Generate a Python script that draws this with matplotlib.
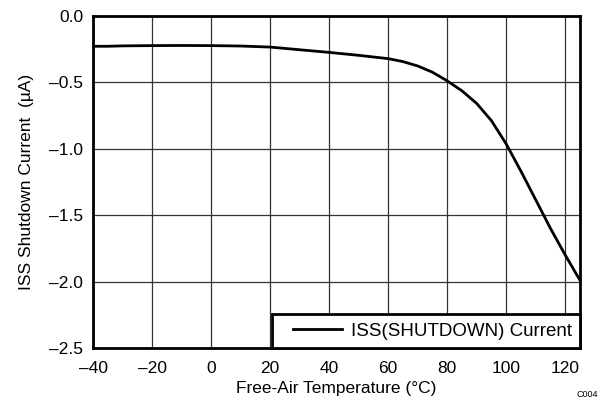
import numpy as np
import matplotlib.pyplot as plt
from matplotlib.legend_handler import HandlerLine2D

plt.rcParams['font.family'] = ['Liberation Sans', 'DejaVu Sans']

temp = [-40, -35, -30, -20, -10, 0, 10, 20, 30, 40, 50, 60, 65, 70, 75,
        80, 85, 90, 95, 100, 105, 110, 115, 120, 125]
iss = [-0.23, -0.23, -0.227, -0.225, -0.224, -0.225, -0.228, -0.236, -0.256,
       -0.276, -0.298, -0.323, -0.345, -0.378, -0.425, -0.49, -0.565, -0.66,
       -0.79, -0.965, -1.17, -1.385, -1.60, -1.80, -1.99]
xticks = [-40, -20, 0, 20, 40, 60, 80, 100, 120]
yticks = [0.0, -0.5, -1.0, -1.5, -2.0, -2.5]

fs = 12.5
fig = plt.figure(figsize=(6.02, 4.13), dpi=100)
ax = fig.add_axes([0.1545, 0.157, 0.809, 0.805])

line, = ax.plot(temp, iss, color='black', lw=2, label='ISS(SHUTDOWN) Current')

ax.set_xlim(-40, 125)
ax.set_ylim(-2.5, 0)
ax.set_xticks(xticks)
ax.set_xticklabels([str(v).replace('-', '\u2013') for v in xticks])
ax.set_yticks(yticks)
ax.set_yticklabels([('%.1f' % v).replace('-', '\u2013') for v in yticks])
ax.tick_params(axis='x', length=0, labelsize=fs, pad=9)
ax.tick_params(axis='y', length=0, labelsize=fs, pad=7)

for x in xticks + [125]:
    ax.axvline(x, color='#333333', lw=0.9, zorder=0)
for y in yticks:
    ax.axhline(y, color='#333333', lw=0.9, zorder=0)

for s in ax.spines.values():
    s.set_linewidth(2)

ax.set_xlabel('Free-Air Temperature (°C)', fontsize=fs, labelpad=4)
ax.set_ylabel('ISS Shutdown Current  (µA)', fontsize=fs, labelpad=11)

leg = ax.legend(loc='lower left', bbox_to_anchor=(0.3676, 0, 0.6324, 0.1),
                mode='expand', fontsize=13.5, fancybox=False, framealpha=1,
                edgecolor='black', borderaxespad=0, handlelength=3.3,
                borderpad=0.45, handletextpad=0.45,
                handler_map={line: HandlerLine2D(xpad=0.65)})
leg.get_frame().set_linewidth(2)

fig.text(0.993, 0.045, 'C004', fontsize=6.5, ha='right', va='center')

fig.savefig('out.png', dpi=100)
